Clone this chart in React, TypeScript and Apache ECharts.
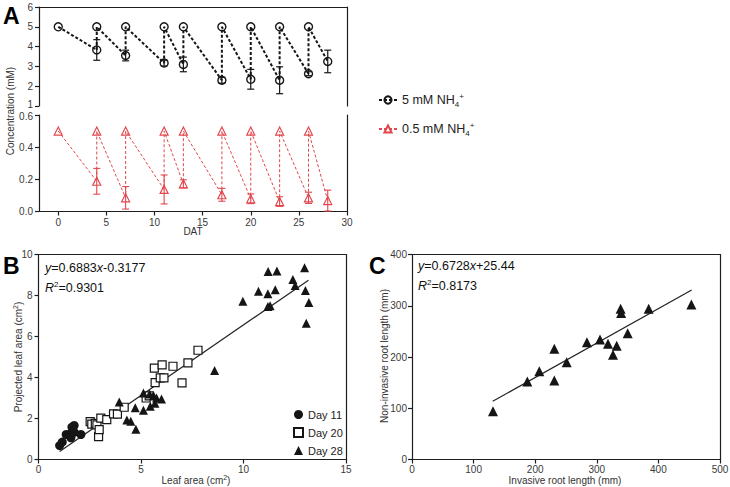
import React, { useEffect, useRef } from 'react';
import * as echarts from 'echarts';

const FONT = 'Liberation Sans, Arial, Helvetica, sans-serif';

// ---------- Panel A data ----------
const daysA = [0, 4, 7, 11, 13, 17, 20, 23, 26, 28];
const start5 = 5;
const mean5 = [5, 3.83, 3.55, 3.17, 3.1, 2.3, 2.35, 2.3, 2.63, 3.25];
const sd5 = [0, 0.52, 0.27, 0.15, 0.37, 0.15, 0.5, 0.68, 0.1, 0.57];
const start05 = 0.5;
const mean05 = [0.5, 0.188, 0.085, 0.137, 0.172, 0.104, 0.079, 0.062, 0.085, 0.068];
const sd05 = [0, 0.08, 0.07, 0.09, 0.025, 0.04, 0.03, 0.03, 0.035, 0.065];
const xTicksA = [0, 5, 10, 15, 20, 25, 30];
const name5 = '5 mM NH4+';
const name05 = '0.5 mM NH4+';

// ---------- Panel B data ----------
const day11X = [1.03, 1.16, 1.35, 1.55, 1.63, 1.74, 1.74, 1.58, 2.07];
const day11Y = [0.68, 0.85, 1.22, 1.25, 1.58, 1.66, 1.33, 1.06, 1.22];
const day20X = [2.52, 2.6, 2.77, 2.85, 2.93, 2.96, 3.04, 3.33, 3.66, 3.85, 4.18, 5.25, 5.4, 5.69, 5.65, 5.94, 6.03, 6.12, 6.56, 7.0, 7.29, 7.78];
const day20Y = [1.85, 1.73, 1.76, 1.69, 1.12, 1.46, 2.02, 1.95, 2.23, 2.21, 2.55, 3.0, 3.1, 3.75, 4.46, 3.98, 4.62, 3.98, 4.55, 3.74, 4.71, 5.33];
const day28X = [3.94, 4.31, 4.5, 4.72, 4.75, 5.12, 5.12, 5.42, 5.61, 5.45, 5.68, 5.76, 6.0, 8.59, 9.97, 10.73, 11.19, 11.2, 11.63, 11.55, 11.19, 11.3, 12.41, 12.52, 12.98, 13.02, 13.19, 13.06];
const day28Y = [2.8, 1.93, 1.87, 2.52, 1.47, 2.4, 3.25, 3.2, 3.12, 2.6, 2.75, 3.0, 2.95, 4.34, 7.72, 8.21, 8.08, 9.17, 9.19, 8.28, 7.46, 7.5, 8.78, 8.49, 9.35, 8.24, 7.66, 6.65];
const slopeB = 0.6883;
const interceptB = -0.3177;
const r2B = 0.9301;
const fitRangeB = [1.03, 13.17];

// ---------- Panel C data ----------
const invasiveX = [131.5, 187.2, 206.7, 231, 231, 251.1, 284, 305.2, 318.2, 332.3, 326.3, 338.7, 339.5, 350.1, 384.2, 453.5];
const nonInvasiveY = [94.3, 152.2, 172.4, 216, 154.1, 189.9, 229, 234.1, 225.7, 221.8, 204.2, 294, 286, 246.5, 294, 302.4];
const slopeC = 0.6728;
const interceptC = 25.44;
const r2C = 0.8173;
const fitRangeC = [131, 454];

function sawtooth(days: number[], means: number[], start: number) {
  const out: number[][] = [];
  days.forEach((d, i) => {
    out.push([d, means[i]]);
    if (i > 0 && i < days.length - 1) out.push([d, start]);
  });
  return out;
}
function errData(days: number[], means: number[], sds: number[]) {
  return days.slice(1).map((d, k) => [d, means[k + 1] - sds[k + 1], means[k + 1] + sds[k + 1]]);
}
function zip(xs: number[], ys: number[]) {
  return xs.map((x, i) => [x, ys[i]]);
}
function fitLine(slope: number, icpt: number, range: number[]) {
  return range.map((x) => [x, slope * x + icpt]);
}
function eqText(slope: number, icpt: number) {
  const sign = icpt < 0 ? '-' : '+';
  return `{i|y}=${slope}{i|x}${sign}${Math.abs(icpt)}`;
}

const AX = { color: '#1e1e1e', width: 1.2 };
const LBL = { color: '#3a3a3a', fontSize: 10, fontFamily: FONT };

function borderX(gridIndex: number) {
  return {
    type: 'value', gridIndex, position: 'top', min: 0, max: 1,
    axisLine: { show: true, onZero: false, lineStyle: AX },
    axisTick: { show: false }, axisLabel: { show: false }, splitLine: { show: false },
  };
}
function borderY(gridIndex: number) {
  return {
    type: 'value', gridIndex, position: 'right', min: 0, max: 1,
    axisLine: { show: true, onZero: false, lineStyle: AX },
    axisTick: { show: false }, axisLabel: { show: false }, splitLine: { show: false },
  };
}

function errRender(color: string, w: number) {
  return (params: any, api: any) => {
    const x = api.value(0);
    const lo = api.coord([x, api.value(1)]);
    const hi = api.coord([x, api.value(2)]);
    const st = { stroke: color, lineWidth: w };
    return {
      type: 'group',
      children: [
        { type: 'line', shape: { x1: lo[0], y1: lo[1], x2: hi[0], y2: hi[1] }, style: st },
        { type: 'line', shape: { x1: lo[0] - 3.5, y1: lo[1], x2: lo[0] + 3.5, y2: lo[1] }, style: st },
        { type: 'line', shape: { x1: hi[0] - 3.5, y1: hi[1], x2: hi[0] + 3.5, y2: hi[1] }, style: st },
      ],
    };
  };
}

const RED = '#e2474d';
const BLK = '#151515';

export default function App() {
  const ref = useRef<HTMLDivElement>(null);
  useEffect(() => {
    if (!ref.current) return;
    const chart = echarts.init(ref.current, undefined, { renderer: 'svg' });
    const supRich = {
      i: { fontStyle: 'italic', fontSize: 12.5, fontFamily: FONT, color: '#111' },
      sup: { fontSize: 8, fontFamily: FONT, color: '#111', padding: [0, 0, 7, 0] },
    };
    const axisTitle = (text: string, x: number, y: number, rot: boolean) => ({
      type: 'text', x, y, rotation: rot ? Math.PI / 2 : 0,
      style: {
        text, fontSize: 10, fontFamily: FONT, fill: '#333', align: 'center', verticalAlign: 'middle',
        rich: { sup: { fontSize: 7, fontFamily: FONT, fill: '#333', color: '#333', padding: [0, 0, 6, 0] } },
      },
    });
    const letter = (t: string, x: number, y: number) => ({
      type: 'text', x, y,
      style: { text: t, fontSize: 23, fontWeight: 'bold', fontFamily: FONT, fill: '#000', verticalAlign: 'middle' },
    });
    const eq = (text: string, x: number, y: number) => ({
      type: 'text', x, y,
      style: { text, fontSize: 12.5, fontFamily: FONT, fill: '#111', verticalAlign: 'middle', rich: supRich },
    });

    const option: any = {
      animation: false,
      backgroundColor: '#ffffff',
      textStyle: { fontFamily: FONT },
      grid: [
        { left: 39, top: 7, width: 308, height: 99, outerBoundsMode: 'none' },
        { left: 39, top: 115, width: 308, height: 96.5, outerBoundsMode: 'none' },
        { left: 38.5, top: 254.5, width: 307.5, height: 205, outerBoundsMode: 'none' },
        { left: 412, top: 254.5, width: 308, height: 205, outerBoundsMode: 'none' },
      ],
      xAxis: [
        {
          type: 'value', gridIndex: 0, position: 'top', min: -2, max: 30,
          axisLine: { show: true, onZero: false, lineStyle: AX },
          axisTick: { show: false }, axisLabel: { show: false }, splitLine: { show: false },
        },
        {
          type: 'value', gridIndex: 1, position: 'bottom', min: -2, max: 30,
          axisLine: { show: true, onZero: false, lineStyle: AX },
          axisTick: { show: true, length: 4, customValues: xTicksA, lineStyle: AX },
          axisLabel: { ...LBL, margin: 6, customValues: xTicksA },
          splitLine: { show: false },
        },
        {
          type: 'value', gridIndex: 2, position: 'bottom', min: 0, max: 15, interval: 5,
          axisLine: { show: true, onZero: false, lineStyle: AX },
          axisTick: { show: true, length: 4, lineStyle: AX },
          axisLabel: { ...LBL, margin: 5 },
          splitLine: { show: false },
        },
        borderX(2),
        {
          type: 'value', gridIndex: 3, position: 'bottom', min: 0, max: 500, interval: 100,
          axisLine: { show: true, onZero: false, lineStyle: AX },
          axisTick: { show: true, length: 4, lineStyle: AX },
          axisLabel: { ...LBL, margin: 5 },
          splitLine: { show: false },
        },
        borderX(3),
      ],
      yAxis: [
        {
          type: 'value', gridIndex: 0, position: 'left', min: 1, max: 6, interval: 1,
          axisLine: { show: true, onZero: false, lineStyle: AX },
          axisTick: { show: true, length: 4, lineStyle: AX },
          axisLabel: {
            ...LBL, margin: 6,
            formatter: (v: number) => (v === 1 ? `{lo|${v}}` : `${v}`),
            rich: { lo: { ...LBL, padding: [0, 0, 3, 0] } },
          },
          splitLine: { show: false },
        },
        borderY(0),
        {
          type: 'value', gridIndex: 1, position: 'left', min: 0, max: 0.6, interval: 0.2,
          axisLine: { show: true, onZero: false, lineStyle: AX },
          axisTick: { show: true, length: 4, lineStyle: AX },
          axisLabel: {
            ...LBL, margin: 6,
            formatter: (v: number) => (Math.abs(v - 0.6) < 1e-6 ? `{hi|${v.toFixed(1)}}` : v.toFixed(1)),
            rich: { hi: { ...LBL, padding: [3, 0, 0, 0] } },
          },
          splitLine: { show: false },
        },
        borderY(1),
        {
          type: 'value', gridIndex: 2, position: 'left', min: 0, max: 10, interval: 2,
          axisLine: { show: true, onZero: false, lineStyle: AX },
          axisTick: { show: true, length: 4, lineStyle: AX },
          axisLabel: { ...LBL, margin: 6 },
          splitLine: { show: false },
        },
        borderY(2),
        {
          type: 'value', gridIndex: 3, position: 'left', min: 0, max: 400, interval: 100,
          axisLine: { show: true, onZero: false, lineStyle: AX },
          axisTick: { show: true, length: 4, lineStyle: AX },
          axisLabel: { ...LBL, margin: 5 },
          splitLine: { show: false },
        },
        borderY(3),
      ],
      legend: [
        {
          data: [name5, name05], orient: 'vertical', left: 373, top: 87,
          itemWidth: 18, itemHeight: 9, itemGap: 13,
          formatter: (n: string) => n.replace('NH4+', 'NH{sub|4}{sup|+}'),
          textStyle: {
            fontSize: 12.5, fontFamily: FONT, color: '#222',
            rich: {
              sub: { fontSize: 8, fontFamily: FONT, color: '#222', padding: [8, 0, 0, 0] },
              sup: { fontSize: 8, fontFamily: FONT, color: '#222', padding: [0, 0, 8, 0] },
            },
          },
        },
        {
          data: ['Day 11', 'Day 20', 'Day 28'], orient: 'vertical', left: 288, top: 404,
          itemWidth: 9, itemHeight: 9, itemGap: 7,
          textStyle: { fontSize: 11, fontFamily: FONT, color: '#222' },
        },
      ],
      graphic: [
        letter('A', 3, 16),
        letter('B', 3, 266),
        letter('C', 369, 266),
        axisTitle('Concentration (mM)', 10, 111, true),
        axisTitle('DAT', 193, 231.5, false),
        axisTitle('Projected leaf area (cm{sup|2})', 18, 357, true),
        axisTitle('Leaf area (cm{sup|2})', 196, 480, false),
        axisTitle('Non-invasive root length (mm)', 384.5, 356, true),
        axisTitle('Invasive root length (mm)', 565, 480, false),
        eq(eqText(slopeB, interceptB), 45, 268),
        eq(`{i|R}{sup|2}=${r2B}`, 45, 288),
        eq(eqText(slopeC, interceptC), 418, 266),
        eq(`{i|R}{sup|2}=${r2C}`, 418, 286),
      ],
      series: [
        {
          name: name5, type: 'line', xAxisIndex: 0, yAxisIndex: 0,
          data: sawtooth(daysA, mean5, start5),
          symbol: 'circle', symbolSize: 8,
          itemStyle: { color: 'rgba(255,255,255,0)', borderColor: BLK, borderWidth: 1.4 },
          lineStyle: { color: BLK, width: 2, type: [3, 2] },
          z: 3,
        },
        {
          type: 'custom', xAxisIndex: 0, yAxisIndex: 0,
          data: errData(daysA, mean5, sd5),
          encode: { x: 0, y: [1, 2] },
          renderItem: errRender(BLK, 1.2), z: 4,
        },
        {
          name: name05, type: 'line', xAxisIndex: 1, yAxisIndex: 2,
          data: sawtooth(daysA, mean05, start05),
          symbol: 'triangle', symbolSize: 8,
          itemStyle: { color: 'rgba(255,255,255,0)', borderColor: RED, borderWidth: 1.2 },
          lineStyle: { color: RED, width: 1, type: [3, 2] },
          z: 3,
        },
        {
          type: 'custom', xAxisIndex: 1, yAxisIndex: 2,
          data: errData(daysA, mean05, sd05),
          encode: { x: 0, y: [1, 2] },
          renderItem: errRender(RED, 1.1), z: 4,
        },
        {
          type: 'line', xAxisIndex: 2, yAxisIndex: 4,
          data: fitLine(slopeB, interceptB, fitRangeB),
          symbol: 'none', lineStyle: { color: '#222', width: 1.2 }, z: 2,
        },
        {
          name: 'Day 11', type: 'scatter', xAxisIndex: 2, yAxisIndex: 4,
          data: zip(day11X, day11Y), symbol: 'circle', symbolSize: 9,
          itemStyle: { color: BLK, opacity: 1 }, z: 3,
        },
        {
          name: 'Day 20', type: 'scatter', xAxisIndex: 2, yAxisIndex: 4,
          data: zip(day20X, day20Y), symbol: 'rect', symbolSize: 8,
          itemStyle: { color: '#fff', borderColor: BLK, borderWidth: 1.2, opacity: 1 }, z: 3,
        },
        {
          name: 'Day 28', type: 'scatter', xAxisIndex: 2, yAxisIndex: 4,
          data: zip(day28X, day28Y), symbol: 'triangle', symbolSize: 9,
          itemStyle: { color: BLK, opacity: 1 }, z: 4,
        },
        {
          type: 'line', xAxisIndex: 4, yAxisIndex: 6,
          data: fitLine(slopeC, interceptC, fitRangeC),
          symbol: 'none', lineStyle: { color: '#222', width: 1.2 }, z: 2,
        },
        {
          type: 'scatter', xAxisIndex: 4, yAxisIndex: 6,
          data: zip(invasiveX, nonInvasiveY), symbol: 'triangle', symbolSize: 10,
          itemStyle: { color: BLK, opacity: 1 }, z: 3,
        },
      ],
    };
    chart.setOption(option);
    return () => chart.dispose();
  }, []);
  return (
    <div
      ref={ref}
      style={{ position: 'fixed', left: 0, top: 0, width: 730, height: 487, background: '#fff' }}
    />
  );
}
